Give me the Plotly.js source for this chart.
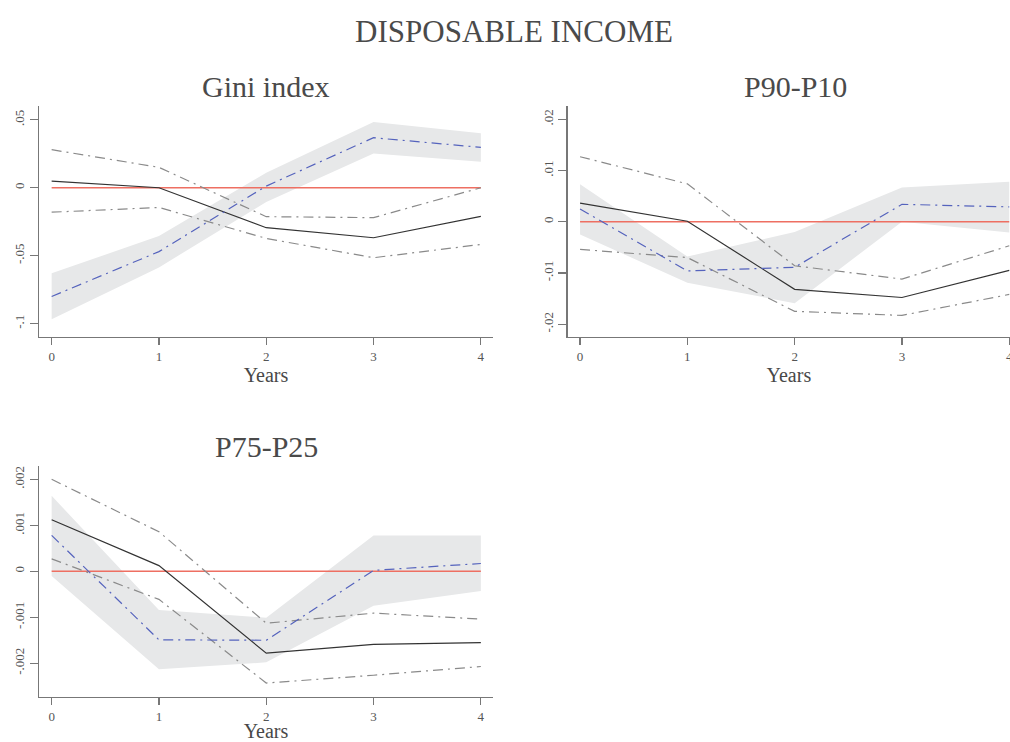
<!DOCTYPE html>
<html>
<head>
<meta charset="utf-8">
<script src="https://cdn.plot.ly/plotly-3.0.1.min.js"></script>
<style>html,body{margin:0;padding:0;background:#fff;}#chart{width:1010px;height:742px;}</style>
</head>
<body>
<div id="chart"></div>
<script>
// ---- Data ----
const years = [0, 1, 2, 3, 4];

// Gini index
const giniMain  = [0.0049, 0.0, -0.0294, -0.0368, -0.0211];
const giniAlt   = [-0.080, -0.047, 0.0012, 0.0368, 0.0297];
const giniBandHi = [-0.063, -0.0355, 0.011, 0.0483, 0.040];
const giniBandLo = [-0.0968, -0.0586, -0.0105, 0.0252, 0.0191];
const giniCiHi  = [0.028, 0.015, -0.0213, -0.022, 0.0];
const giniCiLo  = [-0.018, -0.0145, -0.0373, -0.0515, -0.0417];

// P90-P10
const p9010Main  = [0.00365, 0.0001, -0.0132, -0.0148, -0.0095];
const p9010Alt   = [0.0025, -0.0096, -0.0089, 0.0034, 0.0029];
const p9010BandHi = [0.0073, -0.0068, -0.0020, 0.0067, 0.0078];
const p9010BandLo = [-0.0025, -0.0119, -0.0159, 0.0, -0.0021];
const p9010CiHi  = [0.0127, 0.0074, -0.0086, -0.0112, -0.0047];
const p9010CiLo  = [-0.0054, -0.0070, -0.0175, -0.0183, -0.0142];

// P75-P25
const p7525Main  = [0.00112, 0.000123, -0.00178, -0.00159, -0.00155];
const p7525Alt   = [0.00078, -0.00149, -0.0015, 0.00002, 0.00017];
const p7525BandHi = [0.00164, -0.00084, -0.00101, 0.00078, 0.00078];
const p7525BandLo = [-0.0001, -0.00213, -0.00198, -0.00075, -0.00043];
const p7525CiHi  = [0.0020, 0.00086, -0.00113, -0.00091, -0.00104];
const p7525CiLo  = [0.00027, -0.00061, -0.00243, -0.00226, -0.00207];

const zeroLine = [0, 0, 0, 0, 0];

const giniTicks = [-0.1, -0.05, 0, 0.05];
const giniTickText = ['-.1', '-.05', '0', '.05'];
const p9010Ticks = [-0.02, -0.01, 0, 0.01, 0.02];
const p9010TickText = ['-.02', '-.01', '0', '.01', '.02'];
const p7525Ticks = [-0.002, -0.001, 0, 0.001, 0.002];
const p7525TickText = ['-.002', '-.001', '0', '.001', '.002'];
const panelTitles = ['Gini index', 'P90-P10', 'P75-P25'];
const mainTitle = 'DISPOSABLE INCOME';
const xTitle = 'Years';

// ---- Styles ----
const FONT = 'Liberation Serif, DejaVu Serif, serif';
const bandColor = '#e7e8e9';
const grayLine = {color: '#8a8a8a', width: 1.2, dash: '10px,5px,2px,5px'};
const blueLine = {color: '#5563bd', width: 1.2, dash: '10px,5px,2px,5px'};
const blackLine = {color: '#333333', width: 1.2};
const redLine = {color: '#ee6f62', width: 1.6};

function panel(xa, ya, main, alt, bhi, blo, chi, clo) {
  const sfx = xa === 'x' ? '' : xa.slice(1);
  const X = 'x' + sfx, Y = 'y' + sfx;
  const bandX = years.concat(years.slice().reverse());
  const bandY = bhi.concat(blo.slice().reverse());
  return [
    {x: bandX, y: bandY, xaxis: X, yaxis: Y, type: 'scatter', mode: 'lines', fill: 'toself',
     fillcolor: bandColor, line: {width: 0, color: bandColor}, hoverinfo: 'skip'},
    {x: years, y: zeroLine, xaxis: X, yaxis: Y, type: 'scatter', mode: 'lines', line: redLine},
    {x: years, y: chi, xaxis: X, yaxis: Y, type: 'scatter', mode: 'lines', line: grayLine},
    {x: years, y: clo, xaxis: X, yaxis: Y, type: 'scatter', mode: 'lines', line: grayLine},
    {x: years, y: main, xaxis: X, yaxis: Y, type: 'scatter', mode: 'lines', line: blackLine},
    {x: years, y: alt, xaxis: X, yaxis: Y, type: 'scatter', mode: 'lines', line: blueLine}
  ];
}

const data = [].concat(
  panel('x', 'y', giniMain, giniAlt, giniBandHi, giniBandLo, giniCiHi, giniCiLo),
  panel('x2', 'y2', p9010Main, p9010Alt, p9010BandHi, p9010BandLo, p9010CiHi, p9010CiLo),
  panel('x3', 'y3', p7525Main, p7525Alt, p7525BandHi, p7525BandLo, p7525CiHi, p7525CiLo)
);

function xAxis(domain, range, anchor) {
  return {
    domain: domain, range: range, anchor: anchor,
    tickvals: years, ticktext: years.map(String), ticklabeloverflow: 'allow',
    showgrid: false, zeroline: false, showline: true, linecolor: '#777', linewidth: 1.3,
    ticks: 'outside', ticklen: 7, tickcolor: '#777', tickwidth: 1.2,
    tickfont: {family: FONT, size: 13, color: '#555'},
    title: {text: xTitle, font: {family: FONT, size: 20, color: '#484848'}, standoff: 3}
  };
}
function yAxis(domain, range, anchor, vals, text) {
  return {
    domain: domain, range: range, anchor: anchor,
    tickvals: vals, ticktext: text, tickangle: -90,
    showgrid: false, zeroline: false, showline: true, linecolor: '#777', linewidth: 1.3,
    ticks: 'outside', ticklen: 8, tickcolor: '#777', tickwidth: 1.2,
    tickfont: {family: FONT, size: 13, color: '#555'}
  };
}

const topDom = [0.5462, 0.8571];
const botDom = [0.0611, 0.372];
const leftDom = [0.0386, 0.4881];
const rightDom = [0.5621, 1.0];

const layout = {
  width: 1010, height: 742,
  margin: {l: 0, r: 0, t: 0, b: 0},
  paper_bgcolor: '#ffffff', plot_bgcolor: '#ffffff',
  showlegend: false,
  title: {text: mainTitle, font: {family: FONT, size: 31, color: '#4a4a4a'},
          x: 514 / 1010, xanchor: 'center', y: 1 - 31 / 742, yanchor: 'middle', yref: 'container'},
  xaxis: xAxis(leftDom, [-0.118, 4.113], 'y'),
  yaxis: yAxis(topDom, [-0.1096, 0.0601], 'x', giniTicks, giniTickText),
  xaxis2: xAxis(rightDom, [-0.115, 4.007], 'y2'),
  yaxis2: yAxis(topDom, [-0.02246, 0.0226], 'x2', p9010Ticks, p9010TickText),
  xaxis3: xAxis(leftDom, [-0.118, 4.113], 'y3'),
  yaxis3: yAxis(botDom, [-0.002726, 0.00229], 'x3', p7525Ticks, p7525TickText),
  annotations: [
    {text: panelTitles[0], x: 266 / 1010, y: 1 - 87 / 742},
    {text: panelTitles[1], x: 795 / 1010, y: 1 - 87 / 742},
    {text: panelTitles[2], x: 266 / 1010, y: 1 - 446 / 742}
  ].map(a => Object.assign(a, {xref: 'paper', yref: 'paper', xanchor: 'center', yanchor: 'middle',
      showarrow: false, font: {family: FONT, size: 30, color: '#4a4a4a'}}))
};

Plotly.newPlot('chart', data, layout, {staticPlot: true, displayModeBar: false});
</script>
</body>
</html>
